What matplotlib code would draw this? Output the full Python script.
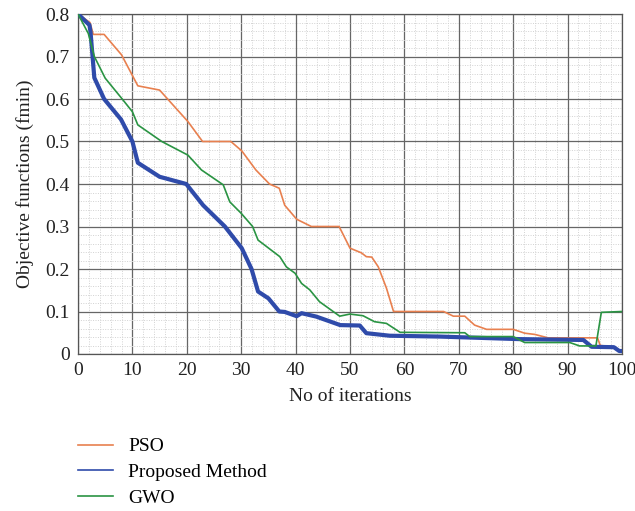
import matplotlib
matplotlib.use("Agg")
import matplotlib.pyplot as plt
from matplotlib.lines import Line2D
from matplotlib.ticker import MultipleLocator, FixedLocator, FuncFormatter

# ---- data ----
pso_x = [0, 2.2, 2.8, 4.8, 8, 11, 15, 20.2, 22.9, 28.1, 30.1, 32.7, 35.2, 37, 38, 40.2,
         42.9, 48, 50, 52.1, 53, 54, 55.2, 56.7, 58, 67.2, 69, 71.1, 72.9, 75.1, 80,
         82.1, 84, 86.4, 95.5, 96, 98.5, 99.5, 100]
pso_y = [0.8, 0.78, 0.752, 0.752, 0.704, 0.631, 0.621, 0.547, 0.50, 0.50, 0.478, 0.433,
         0.40, 0.39, 0.35, 0.317, 0.30, 0.30, 0.249, 0.238, 0.229, 0.228, 0.205, 0.155,
         0.10, 0.10, 0.089, 0.089, 0.068, 0.058, 0.058, 0.049, 0.046, 0.038, 0.038,
         0.02, 0.017, 0.008, 0.008]

prop_x = [0, 2.1, 2.3, 3.0, 4.8, 7.9, 10, 11, 15, 19.9, 23, 27, 30.1, 31.9, 33.1, 35,
          37, 38, 40.2, 41.1, 43.8, 48.2, 51.8, 53, 57.3, 66.5, 81.2, 92.9, 94.4, 98.5,
          99.5, 100]
prop_y = [0.8, 0.774, 0.758, 0.65, 0.60, 0.552, 0.50, 0.45, 0.417, 0.40, 0.35, 0.30,
          0.249, 0.20, 0.147, 0.131, 0.10, 0.099, 0.089, 0.096, 0.088, 0.068, 0.067,
          0.049, 0.043, 0.041, 0.035, 0.033, 0.017, 0.016, 0.007, 0.007]

gwo_x = [0, 1.9, 3.0, 5, 8, 10, 11, 15.4, 20.2, 22.7, 26.7, 27.9, 30, 32.1, 33.1, 37.1,
         38.3, 39.9, 41.1, 42.6, 44.4, 48.1, 50, 52.4, 54.5, 56.7, 59.2, 71.1, 72, 80,
         82.1, 90.4, 92.2, 95.2, 96.2, 100]
gwo_y = [0.8, 0.754, 0.70, 0.649, 0.602, 0.57, 0.539, 0.50, 0.468, 0.433, 0.398, 0.358,
         0.331, 0.30, 0.268, 0.229, 0.205, 0.19, 0.166, 0.151, 0.123, 0.089, 0.094, 0.09,
         0.076, 0.072, 0.051, 0.05, 0.041, 0.041, 0.027, 0.027, 0.019, 0.019, 0.098, 0.1]

labels = ["PSO", "Proposed Method", "GWO"]
colors = ["#E8804F", "#2F4BAA", "#2A9443"]

plt.rcParams["font.family"] = ["Liberation Serif", "DejaVu Serif"]

fig = plt.figure(figsize=(6.35, 5.11), dpi=100)
ax = fig.add_axes([78 / 635, 1 - 354 / 511, 544 / 635, 340 / 511])

ax.plot(pso_x, pso_y, color=colors[0], lw=1.2, zorder=3)
ax.plot(prop_x, prop_y, color=colors[1], lw=3.0, zorder=3, solid_joinstyle="round")
ax.plot(gwo_x, gwo_y, color=colors[2], lw=1.2, zorder=4)

ax.set_xlim(0, 100)
ax.set_ylim(0, 0.8)
ax.xaxis.set_major_locator(MultipleLocator(10))
ax.yaxis.set_major_locator(MultipleLocator(0.1))
ax.xaxis.set_minor_locator(FixedLocator([v for v in range(0, 101, 2) if v % 10 != 0]))
ax.yaxis.set_minor_locator(FixedLocator([i / 50 for i in range(0, 41) if i % 5 != 0]))
ax.yaxis.set_major_formatter(FuncFormatter(lambda v, p: "0" if abs(v) < 1e-9 else f"{v:.1f}"))

ax.set_axisbelow(True)
ax.grid(which="minor", color="#d2d2d2", lw=0.7, ls=(0, (1, 1.5)))
ax.grid(which="major", color="#666666", lw=0.9, ls="-")
for s in ax.spines.values():
    s.set_color("#555555")
    s.set_linewidth(0.9)

ax.tick_params(which="both", length=0, labelsize=14, colors="#222222", pad=6)
ax.set_xlabel("No of iterations", fontsize=14, color="#222222", labelpad=6)
ax.set_ylabel("Objective functions (fmin)", fontsize=14, color="#222222", labelpad=8)

handles = [Line2D([], [], color=c, lw=1.2) for c in colors]
fig.legend(handles, labels, loc="upper left", bbox_to_anchor=(70 / 635, 1 - 430 / 511),
           frameon=False, fontsize=14, handlelength=1.8, handletextpad=0.8,
           labelspacing=0.42, borderaxespad=0)

fig.savefig("out.png", dpi=100)
